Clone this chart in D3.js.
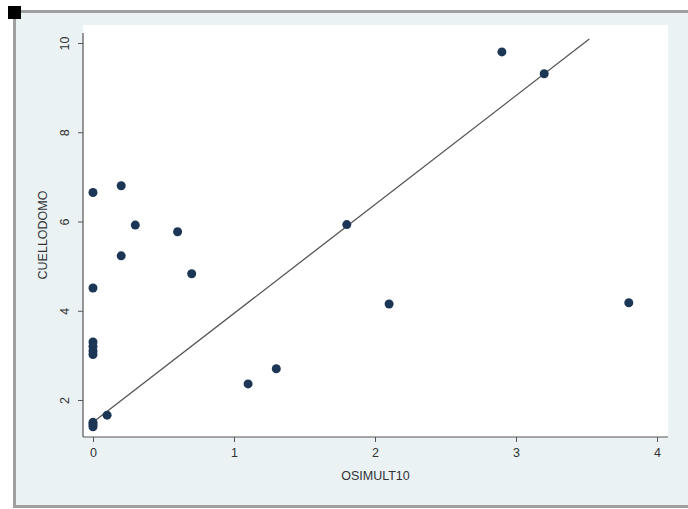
<!DOCTYPE html>
<html>
<head>
<meta charset="utf-8">
<script src="https://cdn.jsdelivr.net/npm/d3@7"></script>
<style>
  html, body { margin: 0; padding: 0; background: #fff; }
  svg { display: block; font-family: "Liberation Sans", Arial, sans-serif; }
</style>
</head>
<body>
<div id="chart"></div>
<script>
// scatter values
const osimult = [0, 0.2, 0.3, 0.6, 0.2, 0.7, 0, 0, 0, 0, 0, 0, 0, 0, 0.1, 1.1, 1.3, 1.8, 2.1, 3.8, 2.9, 3.2];
const cuello  = [6.65, 6.8, 5.92, 5.77, 5.23, 4.83, 4.51, 3.3, 3.2, 3.1, 3.02, 1.5, 1.45, 1.4, 1.66, 2.36, 2.7, 5.93, 4.15, 4.18, 9.8, 9.31];

// fitted line end points
const fitX = [0, 3.52];
const fitY = [1.5, 10.09];

const xTicks = [0, 1, 2, 3, 4];
const yTicks = [2, 4, 6, 8, 10];

const W = 688, H = 509;
const svg = d3.select("#chart").append("svg").attr("width", W).attr("height", H);

// frame with grey borders
svg.append("rect").attr("x", 13).attr("y", 10).attr("width", W - 13).attr("height", 498)
  .attr("fill", "#a0a0a0");
svg.append("rect").attr("x", 16).attr("y", 13).attr("width", W - 16).attr("height", 492)
  .attr("fill", "#eaf2f3");
svg.append("rect").attr("x", 8).attr("y", 6).attr("width", 13).attr("height", 13).attr("fill", "#000");

// plot region
const plot = { left: 83, right: 668, top: 25, bottom: 437 };
svg.append("rect").attr("x", plot.left).attr("y", plot.top)
  .attr("width", plot.right - plot.left).attr("height", plot.bottom - plot.top)
  .attr("fill", "#fff");

const x = d3.scaleLinear().domain([0, 4]).range([93, 657]);
const y = d3.scaleLinear().domain([2, 10]).range([400, 43]);

// axes
const xAxis = svg.append("g").attr("transform", `translate(0,${plot.bottom})`)
  .call(d3.axisBottom(x).tickValues(xTicks).tickSize(5).tickPadding(4).tickFormat(d3.format("d")));
xAxis.select(".domain").remove();
xAxis.append("line").attr("x1", plot.left).attr("x2", plot.right)
  .attr("stroke", "#555").attr("stroke-width", 1.2);

const yAxis = svg.append("g").attr("transform", `translate(${plot.left},0)`)
  .call(d3.axisLeft(y).tickValues(yTicks).tickSize(5).tickFormat(d3.format("d")));
yAxis.select(".domain").remove();
yAxis.append("line").attr("y1", 33).attr("y2", plot.bottom)
  .attr("stroke", "#555").attr("stroke-width", 1.2);

svg.selectAll(".tick line").attr("stroke", "#555");
svg.selectAll(".tick text").attr("fill", "#333").style("font-size", "12.5px")
  .style("font-family", "Liberation Sans, Arial, sans-serif");
xAxis.selectAll(".tick text").attr("dy", "0.9em");
// rotated y tick labels
yAxis.selectAll(".tick text")
  .attr("transform", "rotate(-90)")
  .attr("x", 0).attr("y", -14).attr("dy", 0)
  .attr("text-anchor", "middle");

// axis titles
svg.append("text").attr("x", (plot.left + plot.right) / 2).attr("y", 480)
  .attr("text-anchor", "middle").attr("fill", "#333").style("font-size", "12.5px")
  .text("OSIMULT10");
svg.append("text").attr("transform", `translate(47,${(33 + plot.bottom) / 2}) rotate(-90)`)
  .attr("text-anchor", "middle").attr("fill", "#333").style("font-size", "12.5px")
  .text("CUELLODOMO");

// fitted line
svg.append("line")
  .attr("x1", x(fitX[0])).attr("y1", y(fitY[0]))
  .attr("x2", x(fitX[1])).attr("y2", y(fitY[1]))
  .attr("stroke", "#555").attr("stroke-width", 1.3);

// points
svg.selectAll(".pt").data(osimult.map((v, i) => [v, cuello[i]])).join("circle")
  .attr("class", "pt")
  .attr("cx", d => x(d[0])).attr("cy", d => y(d[1])).attr("r", 4.5)
  .attr("fill", "#1c3656");
</script>
</body>
</html>
